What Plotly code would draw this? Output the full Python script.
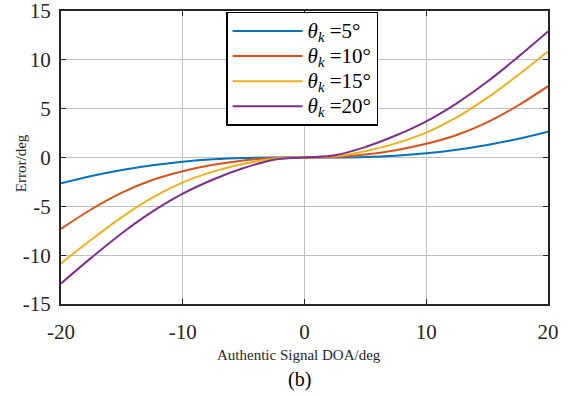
import plotly.graph_objects as go

doa = [-20, -17.5, -15, -12.5, -10, -7.5, -5, -2.5, 0, 2.5, 5, 7.5, 10, 12.5, 15, 17.5, 20]
err_5 = [-2.65, -1.9, -1.28, -0.79, -0.43, -0.19, -0.06, -0.01, 0, 0.01, 0.06, 0.19, 0.43, 0.79, 1.28, 1.9, 2.65]
err_10 = [-7.3, -5.3, -3.6, -2.3, -1.4, -0.75, -0.3, -0.05, 0, 0.05, 0.3, 0.75, 1.4, 2.3, 3.6, 5.3, 7.3]
err_15 = [-10.85, -8.4, -6.1, -4.1, -2.55, -1.45, -0.65, -0.12, 0, 0.12, 0.65, 1.45, 2.55, 4.1, 6.1, 8.4, 10.85]
err_20 = [-12.9, -10.25, -7.75, -5.55, -3.7, -2.25, -1.08, -0.22, 0, 0.22, 1.08, 2.25, 3.7, 5.55, 7.75, 10.25, 12.9]
names = ["5°", "10°", "15°", "20°"]
colors = ["#0072BD", "#D95319", "#EDB120", "#7E2F8E"]
x_ticks = [-20, -10, 0, 10, 20]
x_labels = ["-20", "-10", "0", "10", "20"]
y_ticks = [-15, -10, -5, 0, 5, 10, 15]
y_labels = ["-15", "-10", "-5", "0", "5", "10", "15"]

FONT = "Liberation Serif, Times New Roman, serif"

fig = go.Figure()
for ys, nm, c in zip([err_5, err_10, err_15, err_20], names, colors):
    fig.add_trace(go.Scatter(
        x=doa, y=ys, mode="lines", line=dict(color=c, width=2, shape="spline", smoothing=1.0),
        name='<span style="font-size:21px"><i>θ</i><sub><i>k</i></sub> =' + nm + '</span>',
    ))

axis_common = dict(
    showline=True, linecolor="#262626", linewidth=2, mirror="ticks",
    ticks="inside", ticklen=5, tickwidth=1, tickcolor="#262626",
    showgrid=True, gridcolor="#c0c0c0", gridwidth=1, zeroline=False,
    automargin=False, ticklabeloverflow="allow",
    tickfont=dict(family=FONT, size=21, color="#262626"),
)

fig.update_xaxes(range=[-20, 20], tickvals=x_ticks, ticktext=x_labels,
                 ticklabelstandoff=8, **axis_common)
fig.update_yaxes(range=[-15, 15], tickvals=y_ticks, ticktext=y_labels,
                 ticklabelstandoff=4, **axis_common)

fig.add_annotation(text="Error/deg", xref="paper", yref="paper",
                   x=-0.082, y=0.481, xanchor="center", yanchor="middle",
                   textangle=-90, showarrow=False,
                   font=dict(family=FONT, size=15, color="#262626"))
fig.add_annotation(text="Authentic Signal DOA/deg", xref="paper", yref="paper",
                   x=0.488, y=-0.174, xanchor="center", yanchor="middle",
                   showarrow=False,
                   font=dict(family=FONT, size=15, color="#262626"))
fig.add_annotation(text="(b)", xref="paper", yref="paper", x=0.49, y=-0.259,
                   xanchor="center", yanchor="middle", showarrow=False,
                   font=dict(family=FONT, size=20, color="#000000"))

fig.update_layout(
    width=573, height=396,
    margin=dict(l=61, r=25, t=11, b=92),
    paper_bgcolor="white", plot_bgcolor="white",
    showlegend=True,
    legend=dict(x=0.339, y=0.997, xanchor="left", yanchor="top",
                bgcolor="white", bordercolor="#000000", borderwidth=1.5,
                font=dict(family=FONT, size=17, color="#000000"),
                itemwidth=70, tracegroupgap=0),
)

fig.write_html("out.html")
